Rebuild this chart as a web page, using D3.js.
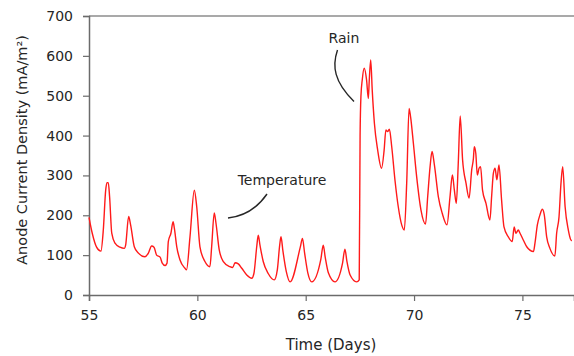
<!DOCTYPE html>
<html><head><meta charset="utf-8">
<script src="https://cdn.jsdelivr.net/npm/d3@7"></script>
<style>body{margin:0;background:#fff}svg{display:block}text{font-family:"DejaVu Sans",Verdana,sans-serif;fill:#262626}</style>
</head><body><svg id="c" width="574" height="356"></svg>
<script>
const days = [55.0,55.15,55.35,55.55,55.66,55.77,55.83,55.89,55.95,56.05,56.2,56.43,56.63,56.69,56.83,56.92,57.09,57.28,57.58,57.74,57.89,58.0,58.12,58.28,58.38,58.51,58.6,58.66,58.78,58.88,58.94,59.05,59.2,59.43,59.5,59.66,59.86,59.97,60.12,60.35,60.58,60.66,60.78,60.86,61.01,61.2,61.5,61.63,61.74,61.89,62.05,62.28,62.51,62.61,62.74,62.81,62.89,63.04,63.27,63.55,63.69,63.8,63.86,63.95,64.1,64.28,64.75,64.85,64.95,65.1,65.28,65.7,65.81,65.9,66.05,66.35,66.7,66.81,66.9,67.05,67.35,67.47,67.51,67.55,67.61,67.7,67.81,67.89,67.93,68.0,68.07,68.17,68.32,68.5,68.62,68.7,68.78,68.86,68.97,69.12,69.27,69.43,69.55,69.66,69.77,69.84,69.97,70.12,70.32,70.53,70.63,70.74,70.83,70.94,71.12,71.3,71.52,71.66,71.77,71.86,71.95,72.04,72.13,72.24,72.4,72.54,72.66,72.74,72.78,72.85,72.92,73.0,73.07,73.16,73.32,73.5,73.58,73.66,73.74,73.82,73.92,74.04,74.15,74.35,74.53,74.62,74.7,74.81,74.89,75.04,75.2,75.51,75.58,75.69,75.81,75.92,76.01,76.12,76.27,76.5,76.58,76.69,76.78,76.86,76.97,77.12,77.24,77.28];
const current = [195,155,120,110,163,263,282,282,247,155,130,120,117,125,197,176,121,105,96,105,123,120,100,95,80,74,80,134,155,184,167,121,88,67,63,146,263,222,121,84,71,121,206,180,113,84,71,69,81,78,67,50,42,54,121,150,125,84,54,38,63,125,146,110,60,33,120,142,105,55,33,90,125,95,55,33,80,115,85,50,33,38,400,500,540,569,539,493,535,590,514,431,364,318,364,414,410,416,372,288,222,176,163,280,468,447,380,297,213,178,247,322,360,326,247,205,176,247,301,263,230,330,449,339,280,243,314,343,372,355,301,318,322,263,230,188,247,305,318,289,326,238,171,146,134,171,155,163,155,138,121,109,130,176,201,215,201,146,117,98,155,196,280,322,222,163,138,136];
const xTicks = [55,60,65,70,75];
const yTicks = [0,100,200,300,400,500,600,700];

const svg = d3.select("#c");
const x = d3.scaleLinear().domain([55, 55 + 485/21.67]).range([89, 574]);
const y = d3.scaleLinear().domain([0, 700]).range([295, 16]);
const axisCol = "#6b6b6b";

// top border
svg.append("line").attr("x1",89).attr("x2",574).attr("y1",16).attr("y2",16)
  .attr("stroke","#8c8c8c").attr("stroke-width",1.5);

const xa = svg.append("g").attr("transform","translate(0,295)")
  .call(d3.axisBottom(x).tickValues(xTicks).tickSize(6).tickPadding(6).tickFormat(d3.format("d")));
const ya = svg.append("g").attr("transform","translate(89,0)")
  .call(d3.axisLeft(y).tickValues(yTicks).tickSize(6).tickPadding(10).tickFormat(d3.format("d")));
[xa,ya].forEach(a=>{
  a.select(".domain").attr("stroke",axisCol).attr("stroke-width",1.5);
  a.selectAll(".tick line").attr("stroke",axisCol).attr("stroke-width",1.2);
  a.selectAll(".tick text").attr("font-size",14).attr("fill","#262626")
   .style("font-family","'DejaVu Sans',Verdana,sans-serif");
});
xa.selectAll(".tick text").attr("dy","0.9em");

const pts = days.map((d,i)=>[d,current[i]]);
svg.append("path").datum(pts)
  .attr("fill","none").attr("stroke","#ff1a1a").attr("stroke-width",1.4)
  .attr("d", d3.line().x(d=>x(d[0])).y(d=>y(d[1])).curve(d3.curveMonotoneX));

// annotations
svg.append("text").attr("x",344).attr("y",43).attr("text-anchor","middle").attr("font-size",14).text("Rain");
svg.append("path").attr("d","M337.5,50 C332,66 334,82 354,101.5").attr("fill","none").attr("stroke","#262626").attr("stroke-width",1.4);
svg.append("text").attr("x",282).attr("y",185).attr("text-anchor","middle").attr("font-size",14).text("Temperature");
svg.append("path").attr("d","M267,194 C258,207 246,216 228,218").attr("fill","none").attr("stroke","#262626").attr("stroke-width",1.4);

// axis titles
svg.append("text").attr("x",331).attr("y",350).attr("text-anchor","middle").attr("font-size",15).text("Time (Days)");
svg.append("text").attr("transform","translate(27,150) rotate(-90)").attr("text-anchor","middle").attr("font-size",14.5)
  .text("Anode Current Density (mA/m²)");
</script></body></html>
